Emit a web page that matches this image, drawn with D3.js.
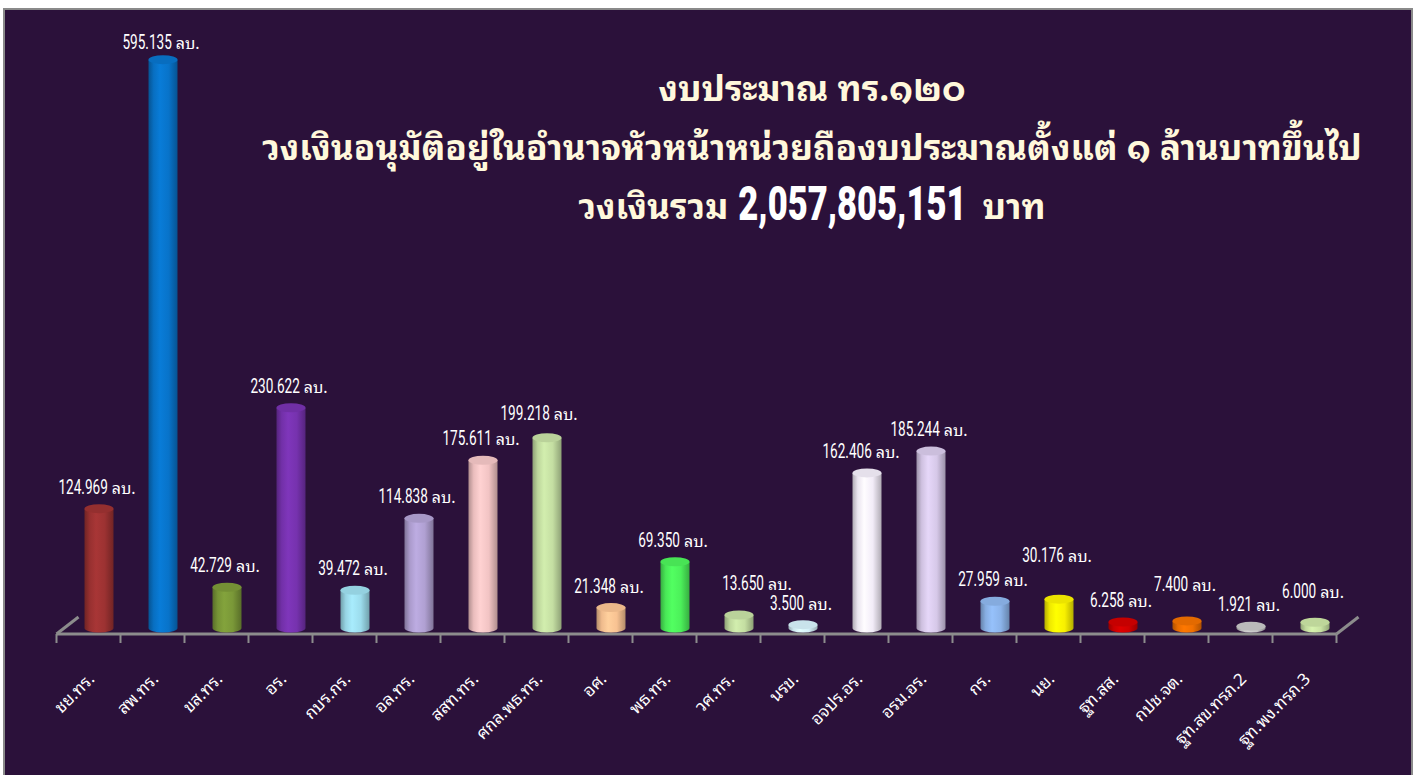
<!DOCTYPE html>
<html>
<head>
<meta charset="utf-8">
<script src="https://cdn.jsdelivr.net/npm/d3@7"></script>
<style>
  body { margin: 0; background: #ffffff; }
  svg { display: block; }
</style>
</head>
<body>
<div id="chart"></div>
<script>
// budget per unit, million baht
const units = ["ชย.ทร.", "สพ.ทร.", "ขส.ทร.", "อร.", "กบร.กร.", "อล.ทร.", "สสท.ทร.", "ศกล.พธ.ทร.", "อศ.", "พธ.ทร.",
  "วศ.ทร.", "นรข.", "อจปร.อร.", "อรม.อร.", "กร.", "นย.", "ฐท.สส.", "กปช.จต.", "ฐท.สข.ทรภ.2", "ฐท.พง.ทรภ.3"];
const budget = [124.969, 595.135, 42.729, 230.622, 39.472, 114.838, 175.611, 199.218, 21.348, 69.350,
  13.650, 3.500, 162.406, 185.244, 27.959, 30.176, 6.258, 7.400, 1.921, 6.000];
const colors = ["#9c3232", "#0873c9", "#7a9838", "#7632ae", "#9cdcec", "#b0a0d2", "#f2c4c4", "#c4dea2", "#f8c292", "#4cf05a",
  "#c4dea2", "#d4f0f8", "#f2ecf8", "#d6c8e8", "#8cb4ea", "#f8f000", "#d00000", "#f07000", "#c4c4c4", "#c8e2a2"];
const titleLines = ["งบประมาณ ทร.๑๒๐", "วงเงินอนุมัติอยู่ในอำนาจหัวหน้าหน่วยถืองบประมาณตั้งแต่ ๑ ล้านบาทขึ้นไป"];
const totalText = ["วงเงินรวม", "2,057,805,151", "บาท"];

// labels that were dragged by hand in the original (dx, dy in px)
const labelNudge = {"สพ.ทร.": [0, 4], "ศกล.พธ.ทร.": [-6, -3], "วศ.ทร.": [20, -10], "อจปร.อร.": [-4, 0],
  "นย.": [0, -22], "กปช.จต.": [0, -15], "ฐท.พง.ทรภ.3": [0, -9]};

const width = 1418, height = 775;
const base = 628;             // floor level of the cylinders
const depth = {x: 22, y: -17}; // floor depth
const rx = 14.5, ry = 4.5;
const numFont = "'Roboto', 'DejaVu Sans', sans-serif";
const thaiFont = "'Noto Sans Thai Looped', 'Loma', 'Garuda', 'Tlwg Typo', 'Sarabun', 'Noto Serif Thai', 'Noto Sans Thai', 'Noto Sans', sans-serif";

const svg = d3.select("#chart").append("svg")
  .attr("width", width).attr("height", height);

// frame
svg.append("rect")
  .attr("x", 4).attr("y", 9).attr("width", 1408).attr("height", 780)
  .attr("fill", "#2b113a").attr("stroke", "#8a8a8a").attr("stroke-width", 2);

const x = d3.scaleBand().domain(units).range([56.5, 1336.5]);
const y = d3.scaleLinear().domain([0, 600]).range([base, 55]);

// cylinder gradients
const defs = svg.append("defs");
colors.forEach((c, i) => {
  const g = defs.append("linearGradient").attr("id", "cyl" + i)
    .attr("x1", 0).attr("x2", 1).attr("y1", 0).attr("y2", 0);
  g.append("stop").attr("offset", "0%").attr("stop-color", d3.color(c).darker(0.9));
  g.append("stop").attr("offset", "18%").attr("stop-color", d3.color(c).darker(0.1));
  g.append("stop").attr("offset", "40%").attr("stop-color", d3.color(c).brighter(0.2));
  g.append("stop").attr("offset", "70%").attr("stop-color", c);
  g.append("stop").attr("offset", "100%").attr("stop-color", d3.color(c).darker(0.9));
});

// floor
const floor = svg.append("g").attr("stroke", "#8c8c8c").attr("stroke-width", 3).attr("fill", "none");
floor.append("line").attr("x1", x.range()[0]).attr("x2", x.range()[1]).attr("y1", 634).attr("y2", 634);
[x.range()[0], x.range()[1]].forEach(px => {
  floor.append("line").attr("x1", px).attr("y1", 634)
    .attr("x2", px + depth.x).attr("y2", 634 + depth.y);
});

// tick marks on the band edges
const edges = units.map(u => x(u)).concat([x.range()[1]]);
svg.append("g").selectAll("line").data(edges).enter().append("line")
  .attr("x1", d => d).attr("x2", d => d).attr("y1", 634).attr("y2", 643)
  .attr("stroke", "#8c8c8c").attr("stroke-width", 2);

// category labels
svg.append("g").selectAll("text").data(units).enter().append("text")
  .attr("transform", d => `translate(${x(d) + x.bandwidth() / 2 + 7},680) rotate(-45)`)
  .attr("text-anchor", "end")
  .attr("font-family", thaiFont).attr("font-size", 17)
  .attr("fill", "#ffffff")
  .text(d => d);

// cylinders
const cx = d => x(d) + x.bandwidth() / 2 + 10.5;
const bars = svg.append("g").selectAll("g").data(units).enter().append("g");

bars.append("path")
  .attr("fill", (d, i) => `url(#cyl${i})`)
  .attr("d", (d, i) => {
    const c = cx(d), top = y(budget[i]);
    return `M${c - rx},${top} L${c - rx},${base} A${rx},${ry} 0 0 0 ${c + rx},${base} L${c + rx},${top} Z`;
  });

bars.append("ellipse")
  .attr("cx", d => cx(d))
  .attr("cy", (d, i) => y(budget[i]))
  .attr("rx", rx).attr("ry", ry)
  .attr("fill", (d, i) => d3.color(colors[i]).darker(0.15));

// value labels: condensed number + small "ลบ."
const sx = 0.68;
bars.each(function(d, i) {
  const nudge = labelNudge[d] || [0, 0];
  const g = d3.select(this).append("g").attr("fill", "#ffffff");
  const num = g.append("text")
    .attr("font-family", numFont).attr("font-size", 20)
    .attr("transform", `scale(${sx},1)`)
    .text(budget[i].toFixed(3));
  const nw = num.node().getComputedTextLength() * sx;
  const unit = g.append("text")
    .attr("x", nw + 4)
    .attr("font-family", thaiFont).attr("font-size", 16)
    .text("ลบ.");
  const w = nw + 4 + unit.node().getComputedTextLength();
  g.attr("transform", `translate(${cx(d) - 2 - w / 2 + nudge[0]},${y(budget[i]) - 15 + nudge[1]})`);
});

// title
const title = svg.append("g").attr("fill", "#fff8dc").attr("font-weight", "bold").attr("font-family", thaiFont);
const l2 = title.append("text").attr("text-anchor", "middle").attr("x", 812).attr("y", 160)
  .attr("font-size", 36).text(titleLines[1]);
const fs = Math.max(28, Math.min(44, 36 * 1100 / l2.node().getComputedTextLength()));
l2.attr("font-size", fs);
title.append("text").attr("text-anchor", "middle").attr("x", 812).attr("y", 101)
  .attr("font-size", fs).text(titleLines[0]);

const t3 = title.append("g");
const a = t3.append("text").attr("font-size", fs).text(totalText[0]);
const aw = a.node().getComputedTextLength();
const bsx = 0.72;
const b = t3.append("text").attr("font-family", numFont).attr("font-size", 48).attr("font-weight", 900)
  .attr("fill", "#ffffff")
  .attr("transform", `translate(${aw + 10},1) scale(${bsx},1)`).text(totalText[1]);
const bw = b.node().getComputedTextLength() * bsx;
const c3 = t3.append("text").attr("font-size", fs).attr("x", aw + 10 + bw + 16).text(totalText[2]);
const tw = aw + 10 + bw + 16 + c3.node().getComputedTextLength();
t3.attr("transform", `translate(${812 - tw / 2},219)`);
</script>
</body>
</html>
